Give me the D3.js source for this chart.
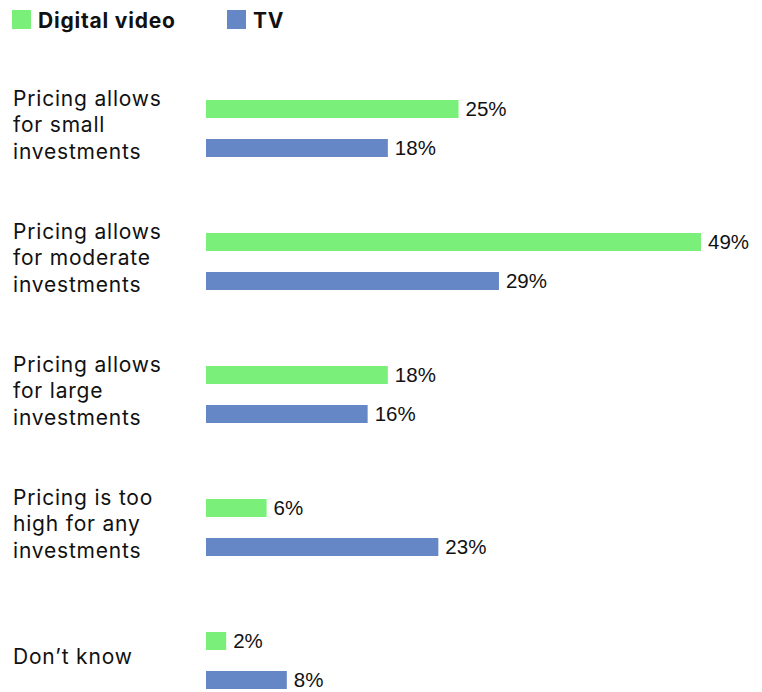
<!DOCTYPE html>
<html>
<head>
<meta charset="utf-8">
<script src="https://cdn.jsdelivr.net/npm/d3@7"></script>
<style>
  html, body { margin: 0; padding: 0; background: #ffffff; }
  svg { display: block; }
</style>
</head>
<body>
<svg id="chart" width="762" height="692"></svg>
<script>
// Survey answers about pricing, shown as one line list per category
const categories = [
  ["Pricing allows", "for small", "investments"],
  ["Pricing allows", "for moderate", "investments"],
  ["Pricing allows", "for large", "investments"],
  ["Pricing is too", "high for any", "investments"],
  ["Don\u2019t know"]
];
const seriesNames = ["Digital video", "TV"];
const digitalVideo = [25, 49, 18, 6, 2];
const tv = [18, 29, 16, 23, 8];
const seriesColors = ["#7af07a", "#6587c5"];

const svg = d3.select("#chart");
const catKeys = categories.map(c => c.join(" "));
const seriesValues = [digitalVideo, tv];

// Horizontal value scale
const x = d3.scaleLinear().domain([0, 49]).range([206, 701]);

// Group and sub-group bands
const y0 = d3.scaleBand().domain(catKeys).range([61, 61 + 133 * 5]);
const y1 = d3.scaleBand().domain(seriesNames).range([39, 117]);
const barH = 18;

const labelFont = "Inter, 'Noto Sans', sans-serif";
const valueFont = "'Liberation Sans', Arial, sans-serif";

// Legend
const legend = svg.append("g");
const legendX = [12, 227];
seriesNames.forEach((name, i) => {
  legend.append("rect")
    .attr("x", legendX[i]).attr("y", 10)
    .attr("width", 19).attr("height", 19)
    .attr("fill", seriesColors[i]);
  legend.append("text")
    .attr("x", legendX[i] + 26).attr("y", 28)
    .attr("font-family", labelFont)
    .attr("font-weight", 700)
    .attr("font-size", 21)
    .attr("letter-spacing", 0.8)
    .attr("fill", "#111")
    .text(name);
});

// Category groups
const groups = svg.selectAll("g.cat")
  .data(categories)
  .join("g")
  .attr("class", "cat")
  .attr("transform", (d, i) => `translate(0,${y0(catKeys[i])})`);

// Category labels (multi-line)
groups.each(function(lines) {
  const g = d3.select(this);
  const center = y1(seriesNames[0]) + (y1.step() + barH) / 2;
  const text = g.append("text")
    .attr("font-family", labelFont)
    .attr("font-size", 21)
    .attr("letter-spacing", 0.8)
    .attr("fill", "#111");
  lines.forEach((line, j) => {
    text.append("tspan")
      .attr("x", 13)
      .attr("y", center + 3.5 + (j - (lines.length - 1) / 2) * 26.5)
      .text(line);
  });
});

// Bars and value labels
groups.each(function(lines, i) {
  const g = d3.select(this);
  seriesNames.forEach((name, s) => {
    const v = seriesValues[s][i];
    g.append("rect")
      .attr("x", x(0))
      .attr("y", y1(name))
      .attr("width", x(v) - x(0))
      .attr("height", barH)
      .attr("fill", seriesColors[s]);
    g.append("text")
      .attr("x", x(v) + 7)
      .attr("y", y1(name) + barH / 2 + 6.5)
      .attr("font-family", valueFont)
      .attr("font-size", 20.5)
      .attr("fill", "#111")
      .text(v + "%");
  });
});
</script>
</body>
</html>
